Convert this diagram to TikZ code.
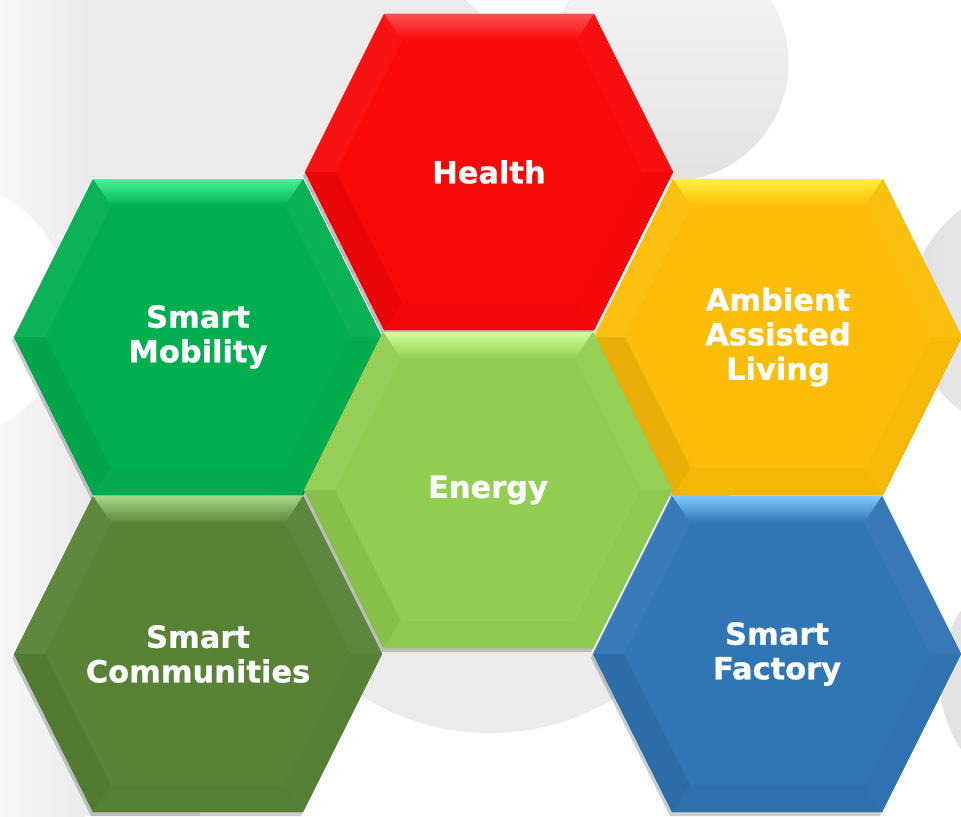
\documentclass[tikz,border=0pt]{standalone}
\usepackage{fontspec}
\setmainfont{DejaVu Sans}
\newfontfamily\cellfont{DejaVu Sans Bold}[FakeBold=0.8]

\definecolor{bggray}{HTML}{EBEBEB}
\definecolor{bgpale}{HTML}{F7F7F7}
\definecolor{bgshade}{HTML}{E2E2E2}
\definecolor{bgfaint}{HTML}{F4F4F4}
\definecolor{healthred}{HTML}{F90808}
\definecolor{healthglow}{HTML}{FF5050}
\definecolor{mobgreen}{HTML}{02AF50}
\definecolor{mobglow}{HTML}{45F595}
\definecolor{aalyellow}{HTML}{FBBD08}
\definecolor{aalglow}{HTML}{FFF040}
\definecolor{energygreen}{HTML}{92CE52}
\definecolor{energyglow}{HTML}{D0FF9C}
\definecolor{commgreen}{HTML}{588337}
\definecolor{commglow}{HTML}{A5D98A}
\definecolor{factblue}{HTML}{3075B4}
\definecolor{factglow}{HTML}{80C8FF}

\tikzset{
	cell text/.style={text=white,font=\cellfont\fontsize{26pt}{29.5pt}\selectfont,align=center,inner sep=0},
	cell shadow/.style={black,opacity=0.2},
}

\begin{document}
\begin{tikzpicture}[x=0.03cm,y=-0.03cm]
	\useasboundingbox (0,0) rectangle (961,816);
	\begin{scope}
	\clip (0,0) rectangle (961,816);
	% background bubbles
	\fill[white] (0,0) rectangle (961,816);
	\fill[bggray] (250,250) circle[radius=330];
	\fill[bggray] (0,420) rectangle (200,816);
	\shade[left color=bgpale,right color=bggray] (0,0) rectangle (85,816);
	\fill[white] (-60,310) circle[radius=130];
	\shade[top color=bgpale,bottom color=bgshade,draw=bgshade] (670,63) circle[radius=118];
	\fill[bggray] (490,493) circle[radius=240];
	\shade[left color=bgshade,right color=bgfaint] (1035,310) circle[radius=125];
	\shade[left color=bgshade,right color=bgfaint] (1065,680) circle[radius=125];
	% honeycomb cells
	\foreach \name/\cx/\cy/\base/\glow/\label in {
		mobility/198/337/mobgreen/mobglow/{Smart\\Mobility},
		aal/778/337/aalyellow/aalglow/{Ambient\\Assisted\\Living},
		communities/198/654/commgreen/commglow/{Smart\\Communities},
		factory/777/654/factblue/factglow/{Smart\\Factory},
		health/489/172/healthred/healthglow/{Health},
		energy/488/490/energygreen/energyglow/{Energy}}
	{
		\begin{scope}[shift={(\cx,\cy)}]
			\fill[cell shadow,shift={(-2,4)}] (-184,0) -- (-105,-158) -- (105,-158) -- (184,0) -- (105,158) -- (-105,158) -- cycle;
			\fill[\base] (-184,0) -- (-105,-158) -- (105,-158) -- (184,0) -- (105,158) -- (-105,158) -- cycle;
			% bevel
			\shade[top color=\glow,bottom color=\base] (-105,-158) -- (105,-158) -- (87,-131) -- (-87,-131) -- cycle;
			\fill[\base!96!white] (-184,0) -- (-105,-158) -- (-87,-131) -- (-153,0) -- cycle;
			\fill[\base!93!black] (-184,0) -- (-153,0) -- (-87,131) -- (-105,158) -- cycle;
			\fill[\base!97!black] (-105,158) -- (-87,131) -- (87,131) -- (105,158) -- cycle;
			\fill[\base!97!white] (184,0) -- (105,-158) -- (87,-131) -- (153,0) -- cycle;
			\fill[\base!98!black] (184,0) -- (153,0) -- (87,131) -- (105,158) -- cycle;
			\draw[\glow,line width=0.8pt] (-105,-158) -- (105,-158);
			\node[cell text] (\name) at (0,0) {\label};
		\end{scope}
	}
	\end{scope}
\end{tikzpicture}
\end{document}
